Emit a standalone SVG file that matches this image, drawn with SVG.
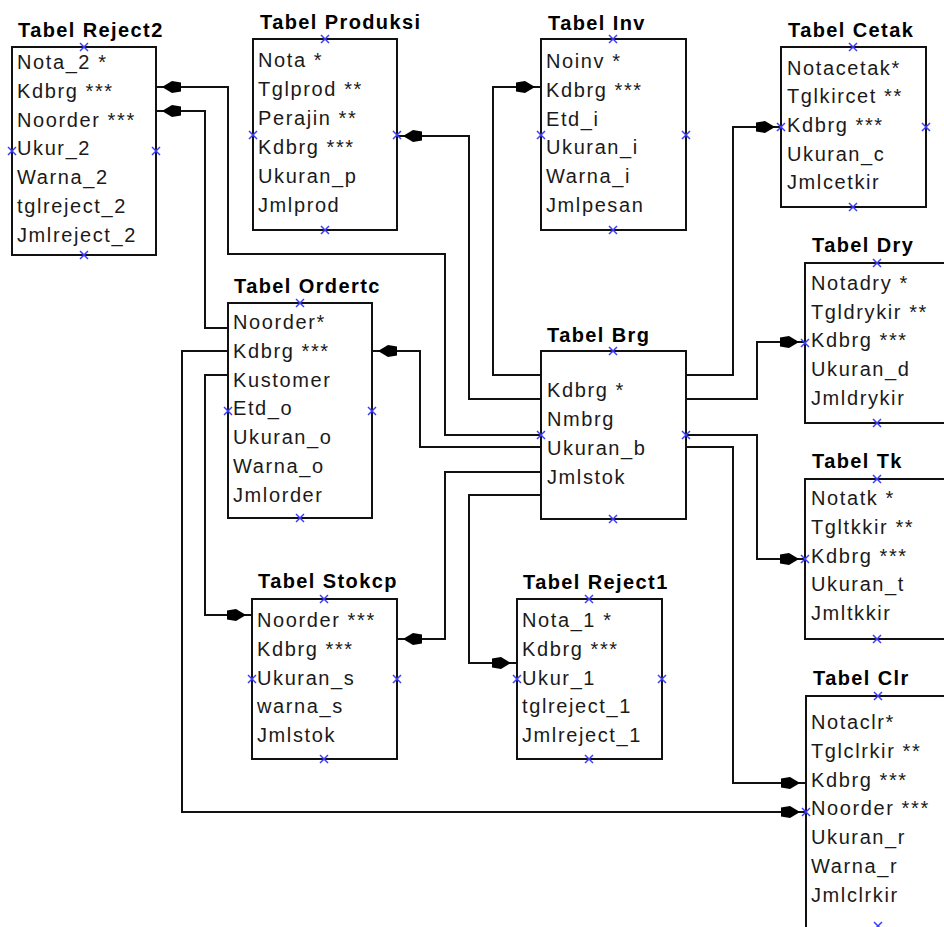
<svg xmlns="http://www.w3.org/2000/svg" width="944" height="927" viewBox="0 0 944 927">
<defs>
<style>
.box{fill:#fff;stroke:#111;stroke-width:2}
.t{font-family:"Liberation Sans",Arial,sans-serif;font-weight:bold;font-size:20px;letter-spacing:1.4px;fill:#000}
.f{font-family:"Liberation Sans",Arial,sans-serif;font-size:20px;letter-spacing:1.6px;fill:#1a1a1a}
.c{fill:none;stroke:#111;stroke-width:2;marker-end:url(#arr)}
.x{stroke:#3c3cff;stroke-width:1.5;fill:none}
</style>
<marker id="arr" markerUnits="userSpaceOnUse" orient="auto" viewBox="-27 -8 28 16" refX="0" refY="0" markerWidth="28" markerHeight="16" overflow="visible">
<path d="M-6,0 L-16,-6 L-25,-4.5 L-25,4.5 L-16,6 Z" fill="#000"/>
</marker>
<path id="xm" class="x" d="M-4,-4 L4,4 M-4,4 L4,-4"/>
</defs>
<rect width="944" height="927" fill="#fff"/>

<g id="connectors">
<path class="c" d="M541,375 H493 V87 H541"/>
<path class="c" d="M541,399 H469 V136 H397"/>
<path class="c" d="M541,435 H445 V254 H228 V87 H156"/>
<path class="c" d="M541,447 H420 V351 H372"/>
<path class="c" d="M541,472 H445 V639 H397"/>
<path class="c" d="M541,495 H469 V663 H517"/>
<path class="c" d="M686,375 H733 V127 H781"/>
<path class="c" d="M686,399 H757 V342 H805"/>
<path class="c" d="M686,435 H757 V559 H805"/>
<path class="c" d="M686,447 H733 V783 H806"/>
<path class="c" d="M228,328 H205 V111 H156"/>
<path class="c" d="M228,375 H205 V615 H252"/>
<path class="c" d="M228,351 H182 V812 H806"/>
</g>

<g id="reject2">
<text class="t" x="18" y="37">Tabel Reject2</text>
<rect class="box" x="12" y="47" width="144" height="208"/>
<text class="f" x="17" y="69">Nota_2 *</text>
<text class="f" x="17" y="97.8">Kdbrg ***</text>
<text class="f" x="17" y="126.6">Noorder ***</text>
<text class="f" x="17" y="155.4">Ukur_2</text>
<text class="f" x="17" y="184.2">Warna_2</text>
<text class="f" x="17" y="213">tglreject_2</text>
<text class="f" x="17" y="241.8">Jmlreject_2</text>
<use href="#xm" x="84" y="47"/><use href="#xm" x="84" y="255"/><use href="#xm" x="12" y="151"/><use href="#xm" x="156" y="151"/>
</g>

<g id="produksi">
<text class="t" x="260" y="29">Tabel Produksi</text>
<rect class="box" x="253" y="39" width="144" height="191"/>
<text class="f" x="258" y="67">Nota *</text>
<text class="f" x="258" y="95.9">Tglprod **</text>
<text class="f" x="258" y="124.8">Perajin **</text>
<text class="f" x="258" y="153.7">Kdbrg ***</text>
<text class="f" x="258" y="182.6">Ukuran_p</text>
<text class="f" x="258" y="211.5">Jmlprod</text>
<use href="#xm" x="325" y="39"/><use href="#xm" x="325" y="230"/><use href="#xm" x="253" y="135"/><use href="#xm" x="397" y="135"/>
</g>

<g id="inv">
<text class="t" x="548" y="30">Tabel Inv</text>
<rect class="box" x="541" y="39" width="145" height="191"/>
<text class="f" x="546" y="68">Noinv *</text>
<text class="f" x="546" y="96.8">Kdbrg ***</text>
<text class="f" x="546" y="125.6">Etd_i</text>
<text class="f" x="546" y="154.4">Ukuran_i</text>
<text class="f" x="546" y="183.2">Warna_i</text>
<text class="f" x="546" y="212">Jmlpesan</text>
<use href="#xm" x="613" y="39"/><use href="#xm" x="613" y="230"/><use href="#xm" x="541" y="135"/><use href="#xm" x="686" y="135"/>
</g>

<g id="cetak">
<text class="t" x="788" y="37">Tabel Cetak</text>
<rect class="box" x="781" y="47" width="145" height="160"/>
<text class="f" x="787" y="74.5">Notacetak*</text>
<text class="f" x="787" y="103.2">Tglkircet **</text>
<text class="f" x="787" y="131.9">Kdbrg ***</text>
<text class="f" x="787" y="160.6">Ukuran_c</text>
<text class="f" x="787" y="189.3">Jmlcetkir</text>
<use href="#xm" x="853" y="47"/><use href="#xm" x="853" y="207"/><use href="#xm" x="781" y="127"/><use href="#xm" x="926" y="127"/>
</g>

<g id="dry">
<text class="t" x="812" y="252">Tabel Dry</text>
<rect class="box" x="805" y="263" width="145" height="160"/>
<text class="f" x="811" y="290">Notadry *</text>
<text class="f" x="811" y="318.7">Tgldrykir **</text>
<text class="f" x="811" y="347.4">Kdbrg ***</text>
<text class="f" x="811" y="376.1">Ukuran_d</text>
<text class="f" x="811" y="404.8">Jmldrykir</text>
<use href="#xm" x="877" y="263"/><use href="#xm" x="877" y="423"/><use href="#xm" x="805" y="343"/>
</g>

<g id="tk">
<text class="t" x="812" y="468">Tabel Tk</text>
<rect class="box" x="805" y="479" width="145" height="160"/>
<text class="f" x="811" y="505">Notatk *</text>
<text class="f" x="811" y="533.8">Tgltkkir **</text>
<text class="f" x="811" y="562.6">Kdbrg ***</text>
<text class="f" x="811" y="591.4">Ukuran_t</text>
<text class="f" x="811" y="620.2">Jmltkkir</text>
<use href="#xm" x="877" y="479"/><use href="#xm" x="877" y="639"/><use href="#xm" x="805" y="559"/>
</g>

<g id="clr">
<text class="t" x="813" y="685">Tabel Clr</text>
<rect class="box" x="806" y="696" width="145" height="232"/>
<text class="f" x="811" y="729">Notaclr*</text>
<text class="f" x="811" y="757.8">Tglclrkir **</text>
<text class="f" x="811" y="786.6">Kdbrg ***</text>
<text class="f" x="811" y="815.4">Noorder ***</text>
<text class="f" x="811" y="844.2">Ukuran_r</text>
<text class="f" x="811" y="873">Warna_r</text>
<text class="f" x="811" y="901.8">Jmlclrkir</text>
<use href="#xm" x="878" y="696"/><use href="#xm" x="878" y="926"/><use href="#xm" x="806" y="812"/>
</g>

<g id="ordertc">
<text class="t" x="234" y="293">Tabel Ordertc</text>
<rect class="box" x="228" y="303" width="144" height="215"/>
<text class="f" x="233" y="329">Noorder*</text>
<text class="f" x="233" y="357.8">Kdbrg ***</text>
<text class="f" x="233" y="386.6">Kustomer</text>
<text class="f" x="233" y="415.4">Etd_o</text>
<text class="f" x="233" y="444.2">Ukuran_o</text>
<text class="f" x="233" y="473">Warna_o</text>
<text class="f" x="233" y="501.8">Jmlorder</text>
<use href="#xm" x="300" y="303"/><use href="#xm" x="300" y="518"/><use href="#xm" x="228" y="411"/><use href="#xm" x="372" y="411"/>
</g>

<g id="brg">
<text class="t" x="547" y="342">Tabel Brg</text>
<rect class="box" x="541" y="351" width="145" height="168"/>
<text class="f" x="547" y="397">Kdbrg *</text>
<text class="f" x="547" y="426">Nmbrg</text>
<text class="f" x="547" y="455">Ukuran_b</text>
<text class="f" x="547" y="484">Jmlstok</text>
<use href="#xm" x="613" y="351"/><use href="#xm" x="613" y="519"/><use href="#xm" x="541" y="435"/><use href="#xm" x="686" y="435"/>
</g>

<g id="stokcp">
<text class="t" x="258" y="588">Tabel Stokcp</text>
<rect class="box" x="252" y="599" width="145" height="160"/>
<text class="f" x="257" y="627">Noorder ***</text>
<text class="f" x="257" y="655.8">Kdbrg ***</text>
<text class="f" x="257" y="684.6">Ukuran_s</text>
<text class="f" x="257" y="713.4">warna_s</text>
<text class="f" x="257" y="742.2">Jmlstok</text>
<use href="#xm" x="324" y="599"/><use href="#xm" x="324" y="759"/><use href="#xm" x="252" y="679"/><use href="#xm" x="397" y="679"/>
</g>

<g id="reject1">
<text class="t" x="523" y="589">Tabel Reject1</text>
<rect class="box" x="517" y="599" width="145" height="160"/>
<text class="f" x="522" y="627">Nota_1 *</text>
<text class="f" x="522" y="655.8">Kdbrg ***</text>
<text class="f" x="522" y="684.6">Ukur_1</text>
<text class="f" x="522" y="713.4">tglreject_1</text>
<text class="f" x="522" y="742.2">Jmlreject_1</text>
<use href="#xm" x="589" y="599"/><use href="#xm" x="589" y="759"/><use href="#xm" x="517" y="679"/><use href="#xm" x="662" y="679"/>
</g>
</svg>
